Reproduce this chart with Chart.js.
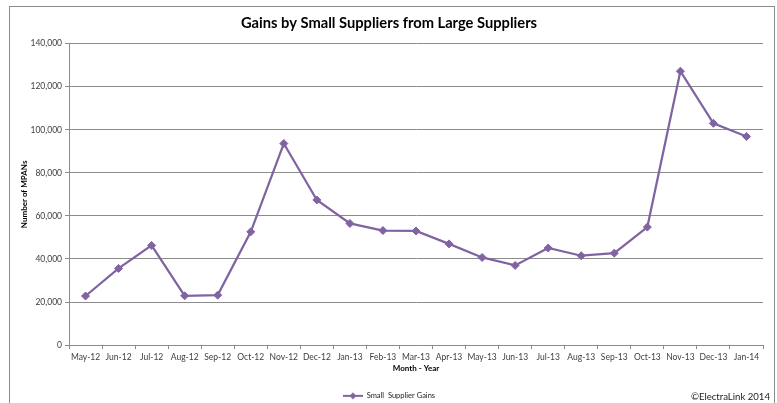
<!DOCTYPE html>
<html>
<head>
<meta charset="utf-8">
<script src="https://cdn.jsdelivr.net/npm/chart.js@4/dist/chart.umd.min.js"></script>
<style>
  html, body { margin: 0; padding: 0; background: #fff; }
  #wrap { width: 777px; height: 403px; }
</style>
</head>
<body>
<div id="wrap"><canvas id="gains_chart" width="777" height="403"></canvas></div>
<script>
const months = ['May-12', 'Jun-12', 'Jul-12', 'Aug-12', 'Sep-12', 'Oct-12', 'Nov-12', 'Dec-12',
  'Jan-13', 'Feb-13', 'Mar-13', 'Apr-13', 'May-13', 'Jun-13', 'Jul-13', 'Aug-13', 'Sep-13',
  'Oct-13', 'Nov-13', 'Dec-13', 'Jan-14'];
const gains = [22800, 35600, 46300, 22900, 23200, 52600, 93600, 67400,
  56500, 53200, 53000, 47000, 40700, 37000, 45100, 41500, 42700,
  54800, 127200, 103000, 96900];
const yTicks = [0, 20000, 40000, 60000, 80000, 100000, 120000, 140000];

const purple = '#8064A2';
const gridGray = '#8c8c8c';
const fontFamily = 'Lato, "Liberation Sans", sans-serif';

// small line + diamond swatch for the legend
const swatch = document.createElement('canvas');
swatch.width = 20;
swatch.height = 8;
(function () {
  const c = swatch.getContext('2d');
  c.strokeStyle = purple;
  c.lineWidth = 2;
  c.beginPath();
  c.moveTo(0, 4);
  c.lineTo(20, 4);
  c.stroke();
  c.fillStyle = purple;
  c.beginPath();
  c.moveTo(10, 0.5);
  c.lineTo(13.5, 4);
  c.lineTo(10, 7.5);
  c.lineTo(6.5, 4);
  c.closePath();
  c.fill();
})();

const frameAndCredit = {
  id: 'frameAndCredit',
  beforeDraw(chart) {
    const ctx = chart.ctx;
    ctx.save();
    ctx.strokeStyle = '#8a8a8a';
    ctx.lineWidth = 1;
    ctx.strokeRect(9.5, 6.5, 765, 420);
    ctx.restore();
  },
  afterDraw(chart) {
    const ctx = chart.ctx;
    ctx.save();
    ctx.font = '9.6px ' + fontFamily;
    ctx.fillStyle = '#222';
    ctx.textAlign = 'right';
    ctx.textBaseline = 'middle';
    ctx.fillText('\u00A9ElectraLink 2014', 770, 397);
    ctx.restore();
  }
};

const config = {
  type: 'line',
  data: {
    labels: months,
    datasets: [
      {
        label: 'Small  Supplier Gains',
        data: gains,
        borderColor: purple,
        backgroundColor: purple,
        borderWidth: 2.25,
        pointStyle: 'rectRot',
        pointRadius: 4,
        pointBorderWidth: 1,
        tension: 0
      }
    ]
  },
  options: {
    responsive: false,
    animation: false,
    layout: {
      padding: { left: 15, right: 14, top: 0, bottom: -6.6 }
    },
    plugins: {
      title: {
        display: true,
        text: 'Gains by Small Suppliers from Large Suppliers',
        color: '#000',
        font: { family: fontFamily, size: 14.7, weight: 'bold' },
        padding: { top: 14, bottom: 12 }
      },
      legend: {
        position: 'bottom',
        labels: {
          color: '#222',
          font: { family: fontFamily, size: 7.5 },
          usePointStyle: true,
          pointStyleWidth: 20,
          padding: 4,
          generateLabels(chart) {
            const items = Chart.defaults.plugins.legend.labels.generateLabels(chart);
            items.forEach(it => { it.pointStyle = swatch; });
            return items;
          }
        }
      },
      tooltip: { enabled: false }
    },
    scales: {
      x: {
        type: 'category',
        offset: true,
        border: { color: gridGray, width: 1 },
        grid: { offset: true, drawOnChartArea: false, drawTicks: true, tickLength: 4, color: gridGray },
        ticks: {
          color: '#404040',
          font: { family: fontFamily, size: 8.5 },
          maxRotation: 0,
          autoSkip: false,
          padding: 3
        },
        title: {
          display: true,
          text: 'Month - Year',
          color: '#000',
          font: { family: fontFamily, size: 8, weight: 'bold' },
          padding: { top: 2, bottom: 14.5 }
        },
        afterFit(scale) { scale.height = 43; }
      },
      y: {
        min: 0,
        max: 140000,
        afterBuildTicks(scale) { scale.ticks = yTicks.map(v => ({ value: v })); },
        border: { color: gridGray, width: 1 },
        grid: { color: gridGray, lineWidth: 1, drawTicks: true, tickLength: 4 },
        ticks: {
          color: '#404040',
          font: { family: fontFamily, size: 8.5 },
          padding: 3,
          callback: v => v.toLocaleString('en-US')
        },
        title: {
          display: true,
          text: 'Number of MPANs',
          color: '#000',
          font: { family: fontFamily, size: 8, weight: 'bold' },
          padding: { top: 5, bottom: 2 }
        },
        afterFit(scale) { scale.width = 54; }
      }
    }
  },
  plugins: [frameAndCredit]
};

document.addEventListener('DOMContentLoaded', () => {
  new Chart(document.getElementById('gains_chart').getContext('2d'), config);
});
</script>
</body>
</html>
